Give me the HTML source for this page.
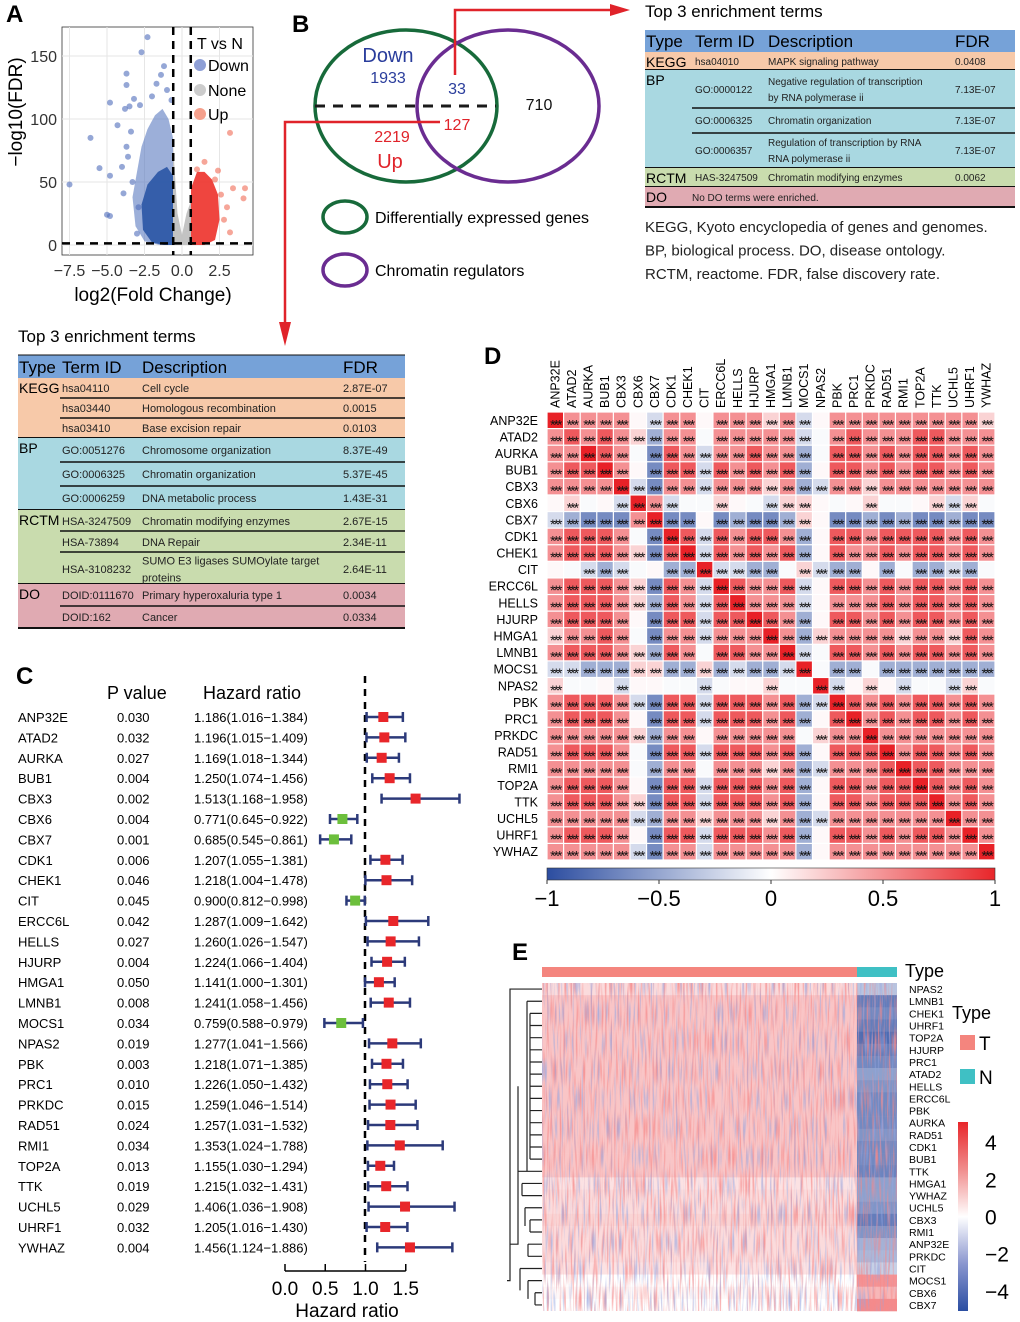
<!DOCTYPE html>
<html><head><meta charset="utf-8"><title>Figure</title>
<style>
html,body{margin:0;padding:0;background:#fff;}
svg{display:block;font-family:"Liberation Sans",Arial,sans-serif;}
</style></head>
<body>
<svg id="fig" width="1020" height="1322" viewBox="0 0 1020 1322" xmlns="http://www.w3.org/2000/svg">
<defs>
<filter id="noiseR" x="0" y="0" width="1" height="1">
<feTurbulence type="fractalNoise" baseFrequency="0.55 0.035" numOctaves="1" seed="3"/>
<feColorMatrix values="0 0 0 0 0.92  0 0 0 0 0.25  0 0 0 0 0.25  3 0 0 0 -1.4"/>
</filter>
<filter id="noiseB" x="0" y="0" width="1" height="1">
<feTurbulence type="fractalNoise" baseFrequency="0.55 0.035" numOctaves="1" seed="11"/>
<feColorMatrix values="0 0 0 0 0.3  0 0 0 0 0.38  0 0 0 0 0.75  3 0 0 0 -1.55"/>
</filter>
<linearGradient id="dbar" x1="0" x2="1" y1="0" y2="0">
<stop offset="0" stop-color="#2c4da0"/><stop offset="0.5" stop-color="#ffffff"/><stop offset="1" stop-color="#e8262a"/>
</linearGradient>
<linearGradient id="ebar" x1="0" x2="0" y1="1" y2="0">
<stop offset="0" stop-color="#2b4ea2"/><stop offset="0.25" stop-color="#8a96cf"/><stop offset="0.5" stop-color="#ffffff"/><stop offset="0.75" stop-color="#f08c8c"/><stop offset="1" stop-color="#e8262a"/>
</linearGradient>
</defs>
<g id="gA"></g>
<g id="gB"></g>
<g id="gT1"></g>
<g id="gT2"></g>
<g id="gC"></g>
<g id="gD"></g>
<g id="gE"></g>
</svg>
<script>
// ---------- DATA ----------
const genes = ["ANP32E","ATAD2","AURKA","BUB1","CBX3","CBX6","CBX7","CDK1","CHEK1","CIT","ERCC6L","HELLS","HJURP","HMGA1","LMNB1","MOCS1","NPAS2","PBK","PRC1","PRKDC","RAD51","RMI1","TOP2A","TTK","UCHL5","UHRF1","YWHAZ"];
const pvals = ["0.030","0.032","0.027","0.004","0.002","0.004","0.001","0.006","0.046","0.045","0.042","0.027","0.004","0.050","0.008","0.034","0.019","0.003","0.010","0.015","0.024","0.034","0.013","0.019","0.029","0.032","0.004"];
const hr = [1.186,1.196,1.169,1.250,1.513,0.771,0.685,1.207,1.218,0.900,1.287,1.260,1.224,1.141,1.241,0.759,1.277,1.218,1.226,1.259,1.257,1.353,1.155,1.215,1.406,1.205,1.456];
const hrLo = [1.016,1.015,1.018,1.074,1.168,0.645,0.545,1.055,1.004,0.812,1.009,1.026,1.066,1.000,1.058,0.588,1.041,1.071,1.050,1.046,1.031,1.024,1.030,1.032,1.036,1.016,1.124];
const hrHi = [1.384,1.409,1.344,1.456,1.958,0.922,0.861,1.381,1.478,0.998,1.642,1.547,1.404,1.301,1.456,0.979,1.566,1.385,1.432,1.514,1.532,1.788,1.294,1.431,1.908,1.430,1.886];
const hrTicks = [0.0,0.5,1.0,1.5];
const corrCodes = {X:1,R:0.75,r:0.5,p:0.2,P:0.2,w:0.03,n:-0.03,b:-0.2,B:-0.45,D:-0.65};
const corrRows = [
"XrrrrwbrrwrrrprbwrrrrrrrrrP",
"rRrRrpBrrnrrrrrbnrRrrrRRrrr",
"rrXRrnDRrbrrRrrBnRRrRrRRrRr",
"rRRXrwDRRbRrRrRBwRRrRrRRrRr",
"rrrrXbDrrbrrrprBbrrprrrrrrr",
"wpnwbXrbnnpwnbppwnwpnnwpbpn",
"bBDDDrXDDwDBDDBpwDDBDBDDBDD",
"rRRRrnDXRbRrRRrBwRRrRRRRrRr",
"rRRRrpDRXbRrRrRBwRrrRrRRrRr",
"wnbBbnwBBXbbBBnpbBBwBnBBbBn",
"rRRRrpDRrbXRrrRbwRRrRrRRrRr",
"rRRRrpBRrbRXrrrbwrrrRrRRrRr",
"rRRRrwDRRbRRXRrBwRRrRrRRrRr",
"prrRrnDrrbrrrXrBprrrrprrpRr",
"rRRRrpBRrnRRrrXbnRRrRrRRrRr",
"bbBBBppBBpBbBBbXnBBnBBBBBBB",
"pnnwbwwnnbnwwpnnXbwpwbnnbpn",
"rRRRrbDRRbRRRrRBbXRrRrRRrRr",
"rRRRrwDRRbRRRrRBwRXrRrRRrRr",
"rrrrrpBrrwrrrrrnprrXrrrrrrr",
"rRRRrnDRRbRRRrRBwRRRXrRRrRr",
"rrrrrnBrrnrrrprBbrrrRXRRrrr",
"rRRRrwDRRbRRRrRBwRRrRRXRrRr",
"rRRRrpDRRbRRRrRBwRRrRRRXrRr",
"rrrrrbBrrprrrprBbrrrrrrrXrr",
"rRRRrwDRRbRRRrRBwRRrRrRRrXr",
"rrrrrbDrrbrrrrrBwrrrrrrrrrX"
];
const dTicks = [-1,-0.5,0,0.5,1];
const eGenes = ["NPAS2","LMNB1","CHEK1","UHRF1","TOP2A","HJURP","PRC1","ATAD2","HELLS","ERCC6L","PBK","AURKA","RAD51","CDK1","BUB1","TTK","HMGA1","YWHAZ","UCHL5","CBX3","RMI1","ANP32E","PRKDC","CIT","MOCS1","CBX6","CBX7"];
const eMeanT = [0.5,0.8,0.8,0.8,0.8,0.8,0.8,0.8,0.8,0.8,0.8,0.8,0.8,0.8,0.8,0.8,0.4,0.5,0.5,0.6,0.5,0.5,0.5,0.4,0.0,0.1,0.0];
const eMeanN = [-1.0,-2.2,-2.0,-2.2,-2.5,-2.2,-2.0,-1.6,-1.8,-2.0,-2.0,-2.0,-1.8,-2.0,-2.0,-2.1,-1.6,-1.6,-1.8,-2.2,-1.8,-1.3,-1.2,-0.8,1.5,1.0,1.6];
const eTicks = [4,2,0,-2,-4];
const volDown = [[-7.5,48],[-5.0,24],[-4.8,23],[-5.5,61],[-6.1,85],[-4.8,113],[-4.3,95],[-3.8,108],[-3.7,136],[-3.7,127],[-2.3,165],[-2.7,153],[-1.2,142],[-1.7,128],[-1.0,123],[-0.7,115],[-2.8,111],[-4.8,55],[-3.9,41],[-3.0,9],[-3.7,78],[-3.5,110],[-3.2,116],[-2.0,118],[-1.4,135],[-3.6,70],[-3.3,50],[-2.9,30],[-4.0,62],[-3.4,90]];
const volUp = [[3.2,89],[4.2,45],[4.1,37],[1.5,66],[2.4,59],[3.2,10],[3.4,45],[2.8,20],[2.6,40],[1.0,60],[2.2,52],[3.0,30]];
const volDownEnv = [[-0.6,0],[-0.6,85],[-0.9,100],[-1.3,108],[-1.8,103],[-2.3,92],[-2.7,78],[-3.0,58],[-3.3,38],[-3.1,15],[-2.5,3],[-1.5,0]];
const volDownCore = [[-0.6,0],[-0.6,55],[-1.0,62],[-1.6,58],[-2.3,48],[-2.7,32],[-2.6,12],[-2.0,2],[-1.2,0]];
const volUpEnv = [[0.6,0],[0.6,45],[1.0,58],[1.5,58],[2.0,52],[2.4,40],[2.5,20],[2.2,4],[1.5,0]];
const volNone = [[-0.6,0],[-0.6,80],[-0.3,25],[0,8],[0.3,25],[0.6,35],[0.6,0]];
const volXTicks = [-7.5,-5.0,-2.5,0.0,2.5];
const volYTicks = [0,50,100,150];

const NS="http://www.w3.org/2000/svg";
function mk(parent,tag,attrs,txt){const e=document.createElementNS(NS,tag);for(const k in attrs)e.setAttribute(k,attrs[k]);if(txt!==undefined)e.textContent=txt;parent.appendChild(e);return e;}
function lerp(a,b,t){return Math.round(a+(b-a)*t);}
function divColor(v,neg,pos){const t=Math.max(-1,Math.min(1,v));const c=t<0?neg:pos;const a=Math.abs(t);return `rgb(${lerp(255,c[0],a)},${lerp(255,c[1],a)},${lerp(255,c[2],a)})`;}

// ---------- PANEL A ----------
(function(){
const g=document.getElementById('gA');
const X=v=>182+v*15, Y=v=>245-v*1.26;
let e=mk(g,'text',{x:6,y:22,'font-size':24,'font-weight':'bold'},'A');


e=mk(g,'rect',{x:62,y:27,width:191,height:228,fill:'#ffffff',stroke:'#333',"stroke-width":0.8});


volXTicks.forEach(t=>{const l=mk(g,'line',{x1:X(t),x2:X(t),y1:27,y2:255,stroke:'#e6e6e6'});

});
volYTicks.forEach(t=>{const l=mk(g,'line',{x1:62,x2:253,y1:Y(t),y2:Y(t),stroke:'#e6e6e6'});

});
const poly=(arr,fill,op,name)=>{const p=mk(g,'polygon',{points:arr.map(d=>X(d[0])+','+Y(d[1])).join(' '),fill:fill,'fill-opacity':op});

};
poly(volNone,'#bdbdbd',0.9,'none-points-cloud');
poly(volDownEnv,'#5a79c0',0.6,'down-points-cloud');
poly(volDownCore,'#2f5aa8',0.95,'down-points-core');
poly(volUpEnv,'#ee3b35',0.95,'up-points-cloud');
volDown.forEach(d=>{const c=mk(g,'circle',{cx:X(d[0]),cy:Y(d[1]),r:3,fill:'#4e6cba','fill-opacity':0.6});

});
volUp.forEach(d=>{const c=mk(g,'circle',{cx:X(d[0]),cy:Y(d[1]),r:3,fill:'#f06a55','fill-opacity':0.6});

});
[[X(-0.585),X(-0.585),27,255],[X(0.585),X(0.585),27,255],[62,253,Y(1.3),Y(1.3)]].forEach(a=>{const l=mk(g,'line',{x1:a[0],x2:a[1],y1:a[2],y2:a[3],stroke:'#000','stroke-width':2.5,'stroke-dasharray':'8,6'});

});
volXTicks.forEach(t=>{const s=mk(g,'text',{x:X(t),y:276,'font-size':16,'text-anchor':'middle',fill:'#333'},t.toFixed(1).replace('-','−'));

});
volYTicks.forEach(t=>{const s=mk(g,'text',{x:57,y:Y(t)+6,'font-size':16,'text-anchor':'end',fill:'#333'},t);

});
e=mk(g,'text',{x:153,y:301,'font-size':19,'text-anchor':'middle'},'log2(Fold Change)');


e=mk(g,'text',{x:22,y:112,'font-size':19,'text-anchor':'middle',transform:'rotate(-90 22 112)'},'−log10(FDR)');


e=mk(g,'text',{x:197,y:49,'font-size':16},'T vs N');


[['Down','#8e9fd6',71],['None','#cccccc',96],['Up','#f5a08c',120]].forEach(a=>{
const c=mk(g,'circle',{cx:200,cy:a[2]-6,r:6,fill:a[1]});


const t=mk(g,'text',{x:208,y:a[2],'font-size':16},a[0]);

});
})();

// ---------- PANEL B ----------
(function(){
const g=document.getElementById('gB');
let e=mk(g,'text',{x:292,y:32,'font-size':24,'font-weight':'bold'},'B');


e=mk(g,'ellipse',{cx:406,cy:106,rx:91,ry:76,fill:'none',stroke:'#176a3a','stroke-width':3.5});


e=mk(g,'ellipse',{cx:508,cy:106,rx:91,ry:76,fill:'none',stroke:'#6a2c91','stroke-width':3.5});


e=mk(g,'line',{x1:315,x2:496,y1:106,y2:106,stroke:'#1a1a1a','stroke-width':3,'stroke-dasharray':'10,8'});


e=mk(g,'polyline',{points:'455,75 455,10 612,10',fill:'none',stroke:'#e0232a','stroke-width':2.5});


e=mk(g,'polygon',{points:'610,4 630,10 610,16',fill:'#e0232a'});


e=mk(g,'polyline',{points:'440,122 285,122 285,325',fill:'none',stroke:'#e0232a','stroke-width':2.5});


e=mk(g,'polygon',{points:'279,322 285,346 291,322',fill:'#e0232a'});


[['Down',388,62,20,'#2a3d9c'],['1933',388,83,16,'#2a3d9c'],['33',457,94,16,'#2a3d9c'],['710',539,110,16,'#111'],['127',457,130,16,'#e0232a'],['2219',392,142,16,'#e0232a'],['Up',390,168,20,'#e0232a']].forEach(a=>{
const t=mk(g,'text',{x:a[1],y:a[2],'font-size':a[3],'text-anchor':'middle',fill:a[4]},a[0]);

});
e=mk(g,'ellipse',{cx:345,cy:217,rx:22,ry:16,fill:'none',stroke:'#176a3a','stroke-width':3.5});


e=mk(g,'text',{x:375,y:223,'font-size':16},'Differentially expressed genes');


e=mk(g,'ellipse',{cx:345,cy:270,rx:22,ry:16,fill:'none',stroke:'#6a2c91','stroke-width':3.5});


e=mk(g,'text',{x:375,y:276,'font-size':16},'Chromatin regulators');


})();

// ---------- TABLES ----------
function buildTable(g,x0,x1,title,titleY,headerY0,headerY1,cols,groups,rowsArr,fs){
let e=mk(g,'text',{x:x0,y:titleY,'font-size':17},title);


e=mk(g,'rect',{x:x0,y:headerY0,width:x1-x0,height:headerY1-headerY0,fill:'#76a2d8'});


['Type','Term ID','Description','FDR'].forEach((h,i)=>{const t=mk(g,'text',{x:cols[i]+(i==0?1:0),y:headerY1-5,'font-size':17},h);

});
groups.forEach(gr=>{const r=mk(g,'rect',{x:x0,y:gr.y0,width:x1-x0,height:gr.y1-gr.y0,fill:gr.fill});


const t=mk(g,'text',{x:x0+1,y:gr.y0+15,'font-size':14},gr.name);


const l=mk(g,'line',{x1:x0,x2:x1,y1:gr.y1,y2:gr.y1,stroke:'#111','stroke-width':2});

});
rowsArr.forEach(r=>{
if(r.line){const l=mk(g,'line',{x1:r.lx,x2:x1,y1:r.line,y2:r.line,stroke:'#111','stroke-width':1.6});

}
const t1=mk(g,'text',{x:cols[1],y:r.y+4,'font-size':fs,fill:'#222'},r.id);


r.desc.forEach((d,k)=>{const t=mk(g,'text',{x:r.dx||cols[2],y:r.y+4+(k-(r.desc.length-1)/2)*(fs+6),'font-size':fs,fill:'#222'},d);

});
const t3=mk(g,'text',{x:cols[3],y:r.y+4,'font-size':fs,fill:'#222'},r.fdr);

});
}
buildTable(document.getElementById('gT1'),645,1015,'Top 3 enrichment terms',17,30,52,[645,695,768,955],
[{name:'KEGG',y0:52,y1:70,fill:'#f7c9a9'},{name:'BP',y0:70,y1:168,fill:'#a9d8e1'},{name:'RCTM',y0:168,y1:187,fill:'#c9dcae'},{name:'DO',y0:187,y1:207,fill:'#e0aab2'}],
[{y:61,id:'hsa04010',desc:['MAPK signaling pathway'],fdr:'0.0408'},
{y:89,id:'GO:0000122',desc:['Negative regulation of transcription','by RNA polymerase ii'],fdr:'7.13E-07'},
{y:120,id:'GO:0006325',desc:['Chromatin organization'],fdr:'7.13E-07',line:108,lx:692},
{y:150,id:'GO:0006357',desc:['Regulation of transcription by RNA','RNA polymerase ii'],fdr:'7.13E-07',line:133,lx:692},
{y:177,id:'HAS-3247509',desc:['Chromatin modifying enzymes'],fdr:'0.0062'},
{y:197,id:'',desc:['No DO terms were enriched.'],fdr:'',dx:692}],10);
buildTable(document.getElementById('gT2'),18,405,'Top 3 enrichment terms',342,355,378,[18,62,142,343],
[{name:'KEGG',y0:378,y1:438,fill:'#f7c9a9'},{name:'BP',y0:438,y1:510,fill:'#a9d8e1'},{name:'RCTM',y0:510,y1:584,fill:'#c9dcae'},{name:'DO',y0:584,y1:628,fill:'#e0aab2'}],
[{y:388,id:'hsa04110',desc:['Cell cycle'],fdr:'2.87E-07'},
{y:408,id:'hsa03440',desc:['Homologous recombination'],fdr:'0.0015',line:398,lx:60},
{y:428,id:'hsa03410',desc:['Base excision repair'],fdr:'0.0103',line:418,lx:60},
{y:450,id:'GO:0051276',desc:['Chromosome organization'],fdr:'8.37E-49'},
{y:474,id:'GO:0006325',desc:['Chromatin organization'],fdr:'5.37E-45',line:462,lx:60},
{y:498,id:'GO:0006259',desc:['DNA metabolic process'],fdr:'1.43E-31',line:486,lx:60},
{y:521,id:'HSA-3247509',desc:['Chromatin modifying enzymes'],fdr:'2.67E-15'},
{y:542,id:'HSA-73894',desc:['DNA Repair'],fdr:'2.34E-11',line:531,lx:60},
{y:569,id:'HSA-3108232',desc:['SUMO E3 ligases SUMOylate target','proteins'],fdr:'2.64E-11',line:552,lx:60},
{y:595,id:'DOID:0111670',desc:['Primary hyperoxaluria type 1'],fdr:'0.0034'},
{y:617,id:'DOID:162',desc:['Cancer'],fdr:'0.0334',line:606,lx:60}],11);
(function(){const g=document.getElementById('gT1');
['KEGG, Kyoto encyclopedia of genes and genomes.','BP, biological process. DO, disease ontology.','RCTM, reactome. FDR, false discovery rate.'].forEach((s,i)=>{
const t=mk(g,'text',{x:645,y:232+i*23.5,'font-size':15,fill:'#222'},s);

});
const g2=document.getElementById('gT2');const l=mk(g2,'line',{x1:18,x2:405,y1:355,y2:355,stroke:'#111','stroke-width':1});

})();

// ---------- PANEL C ----------
(function(){
const g=document.getElementById('gC');
const X=v=>365+(v-1)*98.6;
const TX=t=>285+t*80.5;
const rowY=i=>717+i*20.4;
let e=mk(g,'text',{x:16,y:684,'font-size':24,'font-weight':'bold'},'C');


e=mk(g,'text',{x:107,y:699,'font-size':18},'P value');


e=mk(g,'text',{x:203,y:699,'font-size':18},'Hazard ratio');


e=mk(g,'line',{x1:365,x2:365,y1:676,y2:1262,stroke:'#000','stroke-width':2.5,'stroke-dasharray':'7,6'});


genes.forEach((n,i)=>{const y=rowY(i);
let t=mk(g,'text',{x:18,y:y+5,'font-size':13},n);


t=mk(g,'text',{x:117,y:y+5,'font-size':13},pvals[i]);


t=mk(g,'text',{x:194,y:y+5,'font-size':13},hr[i].toFixed(3)+'('+hrLo[i].toFixed(3)+'−'+hrHi[i].toFixed(3)+')');


const l=mk(g,'path',{d:`M${X(hrLo[i])},${y}H${X(hrHi[i])}M${X(hrLo[i])},${y-5}V${y+5}M${X(hrHi[i])},${y-5}V${y+5}`,stroke:'#2c3a7a','stroke-width':2.5,fill:'none'});


const r=mk(g,'rect',{x:X(hr[i])-5,y:y-5,width:10,height:10,fill:hr[i]>1?'#e8262a':'#6cbf3c'});

});
e=mk(g,'path',{d:`M${TX(0)},1271H${TX(1.5)}`+hrTicks.map(t=>`M${TX(t)},1271V1264`).join(''),stroke:'#000','stroke-width':1.5,fill:'none'});


hrTicks.forEach(t=>{const s=mk(g,'text',{x:TX(t),y:1295,'font-size':19,'text-anchor':'middle'},t.toFixed(1));

});
e=mk(g,'text',{x:347,y:1317,'font-size':19,'text-anchor':'middle'},'Hazard ratio');


})();

// ---------- PANEL D ----------
(function(){
const g=document.getElementById('gD');
const x0=547,y0=412,cs=448/27;
const neg=[44,77,160],pos=[232,33,39];
let e=mk(g,'text',{x:484,y:364,'font-size':24,'font-weight':'bold'},'D');


genes.forEach((n,i)=>{
const cx=x0+(i+0.5)*cs;
let t=mk(g,'text',{x:cx+4,y:408,'font-size':12.5,transform:`rotate(-90 ${cx+4} 408)`},n);


t=mk(g,'text',{x:538,y:y0+(i+0.5)*cs+4.5,'font-size':12.5,'text-anchor':'end'},n);

});
corrRows.forEach((row,i)=>{for(let j=0;j<27;j++){
const ch=row[j];const v=corrCodes[ch]!==undefined?corrCodes[ch]:0.2;
const r=mk(g,'rect',{x:x0+j*cs+0.6,y:y0+i*cs+0.6,width:cs-1.2,height:cs-1.2,fill:divColor(v,neg,pos)});


const a=Math.abs(v);const st=a>=0.15?'***':(a>=0.1?'*':'');
if(st){const s=mk(g,'text',{x:x0+(j+0.5)*cs,y:y0+(i+0.5)*cs+9,'font-size':14,'text-anchor':'middle',fill:'#111','letter-spacing':'-2'},st);

}}});
e=mk(g,'rect',{x:547,y:868,width:448,height:12,fill:'url(#dbar)',stroke:'#333','stroke-width':0.6});


dTicks.forEach(t=>{const x=547+(t+1)/2*448;
const l=mk(g,'line',{x1:x,x2:x,y1:880,y2:884,stroke:'#333'});


const s=mk(g,'text',{x:x,y:906,'font-size':22,'text-anchor':'middle'},String(t).replace('-','−'));

});
})();

// ---------- PANEL E ----------
(function(){
const g=document.getElementById('gE');
const x0=542,xN=857,x1=897,y0=983,rh=(1311-983)/27;
const neg=[43,78,162],pos=[232,38,42];
let e=mk(g,'text',{x:512,y:960,'font-size':24,'font-weight':'bold'},'E');


e=mk(g,'rect',{x:x0,y:967,width:xN-x0,height:10,fill:'#f4857e'});


e=mk(g,'rect',{x:xN,y:967,width:x1-xN,height:10,fill:'#3fc0c4'});


e=mk(g,'text',{x:905,y:977,'font-size':18},'Type');


eGenes.forEach((n,i)=>{const y=y0+i*rh;
let r=mk(g,'rect',{x:x0,y:y,width:xN-x0,height:rh+0.3,fill:divColor(eMeanT[i]/3,neg,pos)});


r=mk(g,'rect',{x:xN,y:y,width:x1-xN,height:rh+0.3,fill:divColor(eMeanN[i]/3,neg,pos)});


const t=mk(g,'text',{x:909,y:y+rh/2+4,'font-size':10.5},n);

});
e=mk(g,'rect',{x:x0,y:y0,width:x1-x0,height:1311-y0,filter:'url(#noiseR)',opacity:0.85});


e=mk(g,'rect',{x:x0,y:y0,width:x1-x0,height:1311-y0,filter:'url(#noiseB)',opacity:0.8});


const yc=i=>y0+(i+0.5)*rh;
const dPath=`M542,${yc(0)}H510V${yc(12)}M527,${yc(1)}V${yc(15)}H518M542,${yc(1)}H527M542,${yc(15)}H527`+
Array.from({length:14},(_,k)=>`M542,${yc(k+2)}H530`).join('')+`M530,${yc(2)}V${yc(14)}`+
`M518,${yc(8)}V${yc(21)}H510M542,${yc(16)}H522M542,${yc(17)}H522M522,${yc(16)}V${yc(17)}M542,${yc(18)}H525M542,${yc(19)}H530M542,${yc(20)}H530M530,${yc(19)}V${yc(20)}M525,${yc(18)}V${yc(19.5)}`+
`M542,${yc(21)}H528M542,${yc(22)}H528M528,${yc(21)}V${yc(22)}M542,${yc(23)}H520M542,${yc(24)}H528M542,${yc(25)}H535M542,${yc(26)}H535M535,${yc(25)}V${yc(26)}M528,${yc(24)}V${yc(25.5)}M520,${yc(23)}V${yc(24.8)}M510,${yc(6)}V${yc(24)}H507`;
e=mk(g,'path',{d:dPath,stroke:'#222','stroke-width':1.2,fill:'none'});


e=mk(g,'text',{x:952,y:1019,'font-size':18},'Type');


[['T','#f4857e',1035],['N','#3fc0c4',1069]].forEach(a=>{
const r=mk(g,'rect',{x:960,y:a[2],width:15,height:15,fill:a[1]});


const t=mk(g,'text',{x:979,y:a[2]+15,'font-size':19},a[0]);

});
e=mk(g,'rect',{x:958,y:1122,width:10,height:189,fill:'url(#ebar)'});


eTicks.forEach(t=>{const y=1216.5-t*18.6;
const s=mk(g,'text',{x:985,y:y+8,'font-size':21},String(t).replace('-','−'));

});
})();
</script>
</body></html>
